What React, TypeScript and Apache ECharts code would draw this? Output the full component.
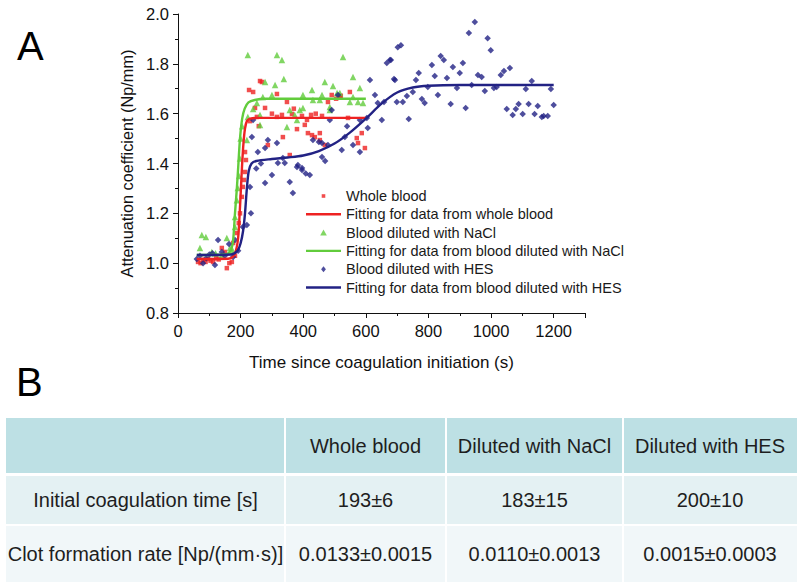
import React, { useEffect, useRef } from 'react';
import * as echarts from 'echarts';

// ---------- Data ----------
const seriesNames = [
  'Whole blood',
  'Fitting for data from whole blood',
  'Blood diluted with NaCl',
  'Fitting for data from blood diluted with NaCl',
  'Blood diluted with HES',
  'Fitting for data from blood diluted with HES',
];

const wholeBloodPts: [number, number][] = [
  [64, 1.005], [72, 1.0], [80, 1.013], [88, 1.005], [96, 1.017], [104, 1.01], [112, 1.005], [122, 1.02],
  [130, 1.015], [140, 1.061], [150, 1.045], [156, 0.98], [164, 1.0], [172, 1.005], [176, 1.081], [182, 1.03],
  [188, 1.121], [194, 1.161], [198, 1.2], [204, 1.266], [207, 1.306], [211, 1.334], [214, 1.366], [217, 1.414],
  [214, 1.446], [227, 1.695], [240, 1.687], [262, 1.731], [268, 1.727], [316, 1.679], [246, 1.623], [278, 1.623],
  [348, 1.647], [252, 1.587], [316, 1.587], [332, 1.595], [364, 1.599], [396, 1.591], [412, 1.575], [460, 1.591],
  [479, 1.647], [491, 1.675], [517, 1.667], [549, 1.687], [405, 1.555], [380, 1.538], [415, 1.522], [428, 1.514],
  [453, 1.522], [437, 1.506], [335, 1.506], [287, 1.474], [453, 1.494], [469, 1.474], [571, 1.502], [587, 1.522],
  [575, 1.482], [597, 1.462], [357, 1.434], [543, 1.583], [300, 1.6], [230, 1.57], [258, 1.55], [520, 1.672],
  [505, 1.66], [440, 1.6], [370, 1.62], [425, 1.595],
];

const naclPts: [number, number][] = [
  [70, 1.061], [76, 1.113], [89, 1.105], [108, 1.045], [120, 1.04], [140, 1.033], [156, 1.101], [166, 1.061],
  [175, 1.05], [182, 1.185], [182, 1.145], [188, 1.253], [191, 1.302], [195, 1.35], [198, 1.42], [200, 1.5],
  [205, 1.55], [223, 1.835], [316, 1.835], [332, 1.815], [527, 1.827], [278, 1.727], [310, 1.715], [338, 1.739],
  [559, 1.747], [469, 1.727], [428, 1.695], [495, 1.711], [581, 1.703], [399, 1.675], [460, 1.675], [508, 1.683],
  [300, 1.675], [271, 1.667], [240, 1.619], [252, 1.643], [357, 1.615], [389, 1.615], [399, 1.623], [485, 1.627],
  [549, 1.647], [575, 1.647], [591, 1.643], [559, 1.667], [453, 1.655], [431, 1.655], [373, 1.595], [348, 1.546],
  [380, 1.575], [262, 1.595], [223, 1.587], [262, 1.555], [220, 1.494], [485, 1.615], [517, 1.683],
];

const hesPts: [number, number][] = [
  [60, 1.017], [70, 1.03], [80, 1.0], [90, 1.02], [100, 1.035], [110, 1.04], [118, 0.993], [128, 1.093],
  [140, 1.045], [150, 1.03], [163, 1.077], [176, 1.025], [182, 1.093], [192, 1.05], [207, 1.145], [220, 1.153],
  [230, 1.306], [233, 1.2], [240, 1.575], [236, 1.506], [255, 1.446], [287, 1.494], [278, 1.462], [319, 1.402],
  [316, 1.482], [335, 1.422], [300, 1.354], [278, 1.322], [341, 1.402], [383, 1.394], [380, 1.386], [396, 1.382],
  [421, 1.354], [357, 1.326], [367, 1.282], [396, 1.374], [450, 1.486], [431, 1.494], [460, 1.482], [460, 1.426],
  [479, 1.474], [485, 1.575], [491, 1.615], [511, 1.675], [533, 1.506], [559, 1.474], [581, 1.446], [523, 1.454],
  [581, 1.575], [603, 1.583], [606, 1.542], [629, 1.675], [638, 1.643], [651, 1.575], [613, 1.735], [667, 1.803],
  [677, 1.815], [693, 1.735], [702, 1.867], [699, 1.647], [265, 1.4], [250, 1.38], [408, 1.36], [470, 1.41],
  [540, 1.55], [658, 1.647], [680, 1.815], [690, 1.739], [712, 1.875], [718, 1.647], [731, 1.671], [737, 1.579],
  [750, 1.687], [760, 1.735], [769, 1.763], [779, 1.659], [788, 1.643], [798, 1.707], [811, 1.795], [820, 1.751],
  [830, 1.675], [839, 1.831], [849, 1.815], [859, 1.743], [871, 1.639], [878, 1.787], [891, 1.703], [900, 1.763],
  [910, 1.803], [919, 1.623], [929, 1.924], [938, 1.715], [948, 1.968], [958, 1.755], [970, 1.747], [980, 1.691],
  [989, 1.903], [999, 1.855], [1009, 1.703], [1018, 1.707], [1031, 1.755], [1041, 1.771], [1050, 1.619],
  [1060, 1.783], [1069, 1.595], [1079, 1.619], [1088, 1.639], [1101, 1.599], [1111, 1.699], [1120, 1.639],
  [1130, 1.731], [1139, 1.599], [1149, 1.631], [1162, 1.587], [1168, 1.591], [1181, 1.591], [1191, 1.699],
  [1200, 1.635],
];

const wholeBloodFit: [number, number][] = [
  [60, 1.017], [160, 1.018], [175, 1.025], [185, 1.05], [192, 1.1], [197, 1.2], [201, 1.3], [205, 1.4],
  [209, 1.48], [214, 1.54], [220, 1.57], [230, 1.58], [260, 1.583], [600, 1.583],
];

const naclFit: [number, number][] = [
  [60, 1.033], [150, 1.035], [165, 1.045], [175, 1.08], [182, 1.2], [188, 1.3], [193, 1.4], [198, 1.5],
  [205, 1.58], [213, 1.62], [225, 1.645], [245, 1.655], [280, 1.66], [600, 1.66],
];

const hesFit: [number, number][] = [
  [60, 1.033], [170, 1.035], [190, 1.05], [200, 1.08], [208, 1.13], [214, 1.2], [220, 1.3], [226, 1.37],
  [235, 1.4], [250, 1.41], [300, 1.418], [350, 1.424], [400, 1.432], [450, 1.45], [500, 1.48], [550, 1.525],
  [600, 1.58], [650, 1.64], [700, 1.685], [750, 1.705], [800, 1.712], [900, 1.715], [1200, 1.715],
];

// Table contents
const tableHeader = ['', 'Whole blood', 'Diluted with NaCl', 'Diluted with HES'];
const rowLabels = ['Initial coagulation time [s]', 'Clot formation rate [Np/(mm·s)]'];
const coagulationTime = ['193±6', '183±15', '200±10'];
const clotFormationRate = ['0.0133±0.0015', '0.0110±0.0013', '0.0015±0.0003'];

// ---------- Styling ----------
const FONT = '"Liberation Sans", Arial, Helvetica, sans-serif';
const RED = '#ee2222';
const GREEN = '#62cc3c';
const NAVY = '#222284';

const ICON_LINE = 'path://M0,0H35V2.4H0Z';
const ICON_SQUARE = 'path://M0,0M10,10M2,2H8V8H2Z';
const ICON_TRIANGLE = 'path://M5,0L10,9H0Z';
const ICON_DIAMOND = 'path://M5,0L9,5L5,10L1,5Z';

const colEdges = [6, 285, 446, 623, 797];
const rowBands = [
  [418, 473],
  [476, 524],
  [526, 582],
];
const rowFills = ['#bde0e4', '#e4f1f3', '#f1f7f9'];

function buildTableGraphics() {
  const els: any[] = [];
  const rows = [tableHeader, [rowLabels[0], ...coagulationTime], [rowLabels[1], ...clotFormationRate]];
  rows.forEach((row, r) => {
    const [y0, y1] = rowBands[r];
    for (let c = 0; c < 4; c++) {
      const x0 = colEdges[c] + (c > 0 ? 1 : 0);
      const x1 = colEdges[c + 1] - (c < 3 ? 1 : 0);
      els.push({
        type: 'rect',
        shape: { x: x0, y: y0, width: x1 - x0, height: y1 - y0 },
        style: { fill: rowFills[r] },
        silent: true,
      });
      if (row[c]) {
        els.push({
          type: 'text',
          x: (colEdges[c] + colEdges[c + 1]) / 2,
          y: (y0 + y1) / 2,
          style: {
            text: row[c],
            fill: '#1e1e1e',
            font: `20px ${FONT}`,
            align: 'center',
            verticalAlign: 'middle',
          },
          silent: true,
        });
      }
    }
  });
  return els;
}

export default function App() {
  const ref = useRef<HTMLDivElement>(null);

  useEffect(() => {
    if (!ref.current) return;
    const chart = echarts.init(ref.current, undefined, { renderer: 'svg' });
    const option: any = {
      animation: false,
      backgroundColor: '#ffffff',
      textStyle: { fontFamily: FONT },
      grid: { left: 178, right: 215, top: 14, bottom: 271 },
      xAxis: {
        type: 'value',
        min: 0,
        max: 1300,
        interval: 200,
        name: 'Time since coagulation initiation (s)',
        nameLocation: 'middle',
        nameGap: 41,
        nameTextStyle: { fontSize: 17, color: '#111', fontFamily: FONT },
        axisLine: { show: true, lineStyle: { color: '#111', width: 1 } },
        axisTick: { show: true, length: 5, lineStyle: { color: '#111' } },
        minorTick: { show: true, splitNumber: 2, length: 3, lineStyle: { color: '#111' } },
        splitLine: { show: false },
        axisLabel: {
          fontSize: 16.5,
          color: '#111',
          margin: 9,
          fontFamily: FONT,
          formatter: (v: number) => (v % 200 === 0 ? String(v) : ''),
        },
      },
      yAxis: {
        type: 'value',
        min: 0.8,
        max: 2.0,
        interval: 0.2,
        name: 'Attenuation coefficient (Np/mm)',
        nameLocation: 'middle',
        nameGap: 42,
        nameTextStyle: { fontSize: 16.3, color: '#111', fontFamily: FONT },
        axisLine: { show: true, lineStyle: { color: '#111', width: 1 } },
        axisTick: { show: true, length: 5, lineStyle: { color: '#111' } },
        minorTick: { show: true, splitNumber: 2, length: 3, lineStyle: { color: '#111' } },
        splitLine: { show: false },
        axisLabel: {
          fontSize: 16.5,
          color: '#111',
          margin: 9,
          fontFamily: FONT,
          formatter: (v: number) => v.toFixed(1),
        },
      },
      legend: {
        orient: 'vertical',
        left: 306,
        top: 187,
        itemWidth: 35,
        itemHeight: 6,
        itemGap: 0.3,
        padding: 0,
        symbolKeepAspect: true,
        textStyle: { fontSize: 14.5, color: '#1a1a1a', fontFamily: FONT, lineHeight: 18 },
        data: [
          { name: seriesNames[0], icon: ICON_SQUARE },
          { name: seriesNames[1], icon: ICON_LINE },
          { name: seriesNames[2], icon: ICON_TRIANGLE },
          { name: seriesNames[3], icon: ICON_LINE },
          { name: seriesNames[4], icon: ICON_DIAMOND },
          { name: seriesNames[5], icon: ICON_LINE },
        ],
      },
      series: [
        {
          name: seriesNames[0],
          type: 'scatter',
          data: wholeBloodPts,
          symbol: 'rect',
          symbolSize: 4.5,
          itemStyle: { color: RED },
          z: 2,
        },
        {
          name: seriesNames[1],
          type: 'line',
          data: wholeBloodFit,
          symbol: 'none',
          smooth: 0.3,
          lineStyle: { color: RED, width: 2.4 },
          itemStyle: { color: RED },
          z: 3,
        },
        {
          name: seriesNames[2],
          type: 'scatter',
          data: naclPts,
          symbol: 'triangle',
          symbolSize: 6.5,
          itemStyle: { color: GREEN },
          z: 2,
        },
        {
          name: seriesNames[3],
          type: 'line',
          data: naclFit,
          symbol: 'none',
          smooth: 0.3,
          lineStyle: { color: GREEN, width: 2.4 },
          itemStyle: { color: GREEN },
          z: 3,
        },
        {
          name: seriesNames[4],
          type: 'scatter',
          data: hesPts,
          symbol: 'diamond',
          symbolSize: 6.5,
          itemStyle: { color: NAVY },
          z: 2,
        },
        {
          name: seriesNames[5],
          type: 'line',
          data: hesFit,
          symbol: 'none',
          smooth: 0.3,
          lineStyle: { color: NAVY, width: 2.4 },
          itemStyle: { color: NAVY },
          z: 3,
        },
      ],
      graphic: [
        {
          type: 'text',
          x: 17,
          y: 46,
          style: { text: 'A', font: `40px ${FONT}`, fill: '#000', verticalAlign: 'middle' },
          silent: true,
        },
        {
          type: 'text',
          x: 16,
          y: 382,
          style: { text: 'B', font: `40px ${FONT}`, fill: '#000', verticalAlign: 'middle' },
          silent: true,
        },
        ...buildTableGraphics(),
      ],
    };
    chart.setOption(option);
    return () => chart.dispose();
  }, []);

  return (
    <div
      ref={ref}
      style={{ position: 'absolute', left: 0, top: 0, width: 800, height: 584, background: '#fff' }}
    />
  );
}
